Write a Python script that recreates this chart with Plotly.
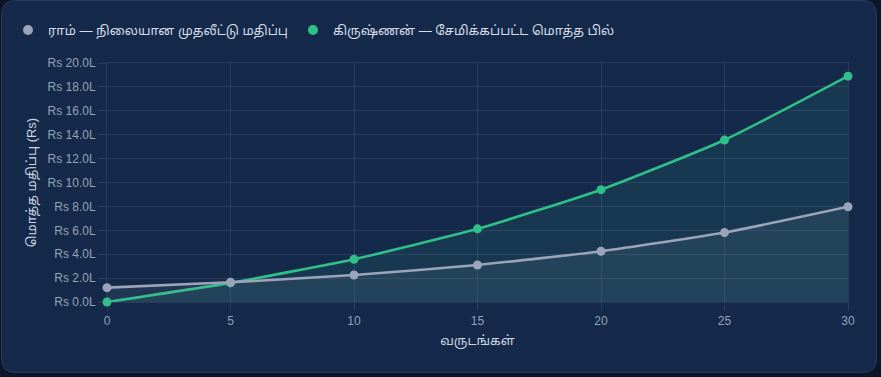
import plotly.graph_objects as go

# ---- data ----
years = [0, 5, 10, 15, 20, 25, 30]
ram_values = [1.2, 1.65, 2.26, 3.1, 4.25, 5.81, 7.97]          # lakhs
krishnan_values = [0, 1.6, 3.58, 6.12, 9.4, 13.56, 18.9]        # lakhs
ram_label = "ராம் — நிலையான முதலீட்டு மதிப்பு"
krishnan_label = "கிருஷ்ணன் — சேமிக்கப்பட்ட மொத்த பில்"
x_title = "வருடங்கள்"
y_title = "மொத்த மதிப்பு (Rs)"

W, H = 881, 377
ML, MR, MT, MB = 107, 33, 63, 75
PW, PH = W - ML - MR, H - MT - MB

GREEN = "#2fbf88"
GRAY = "#9ca4ba"
CARD = "#15294a"
OUTER = "#0c1628"
GRID = "rgba(148,163,184,0.16)"
FONT = "Liberation Sans, Arial, Noto Sans Tamil, Noto Sans, sans-serif"


def px(x):
    return (x - ML) / PW


def py(y):
    return (H - MB - y) / PH


def rounded_rect(x0, y0, x1, y1, r):
    rx, ry = r / PW, r / PH
    X0, X1 = px(x0), px(x1)
    Y0, Y1 = py(y0), py(y1)  # Y0 top (larger), Y1 bottom
    return (f"M {X0+rx},{Y0} L {X1-rx},{Y0} Q {X1},{Y0} {X1},{Y0-ry} "
            f"L {X1},{Y1+ry} Q {X1},{Y1} {X1-rx},{Y1} "
            f"L {X0+rx},{Y1} Q {X0},{Y1} {X0},{Y1+ry} "
            f"L {X0},{Y0-ry} Q {X0},{Y0} {X0+rx},{Y0} Z")


fig = go.Figure()

fig.add_trace(go.Scatter(
    x=years, y=krishnan_values, mode="lines+markers", name=krishnan_label,
    line=dict(color=GREEN, width=2.6, shape="spline", smoothing=0.5),
    marker=dict(size=9, color=GREEN),
    fill="tozeroy", fillcolor="rgba(46,196,138,0.10)",
    showlegend=False, cliponaxis=False,
))
fig.add_trace(go.Scatter(
    x=years, y=ram_values, mode="lines+markers", name=ram_label,
    line=dict(color=GRAY, width=2.6, shape="spline", smoothing=0.5),
    marker=dict(size=9, color=GRAY),
    fill="tozeroy", fillcolor="rgba(148,163,184,0.10)",
    showlegend=False, cliponaxis=False,
))
# legend entries (circle markers only)
for lbl, col in [(ram_label, GRAY), (krishnan_label, GREEN)]:
    fig.add_trace(go.Scatter(x=[None], y=[None], mode="markers", name=lbl,
                             marker=dict(size=10, color=col)))

fig.update_layout(
    width=W, height=H,
    margin=dict(l=ML, r=MR, t=MT, b=MB, autoexpand=False),
    paper_bgcolor=OUTER,
    plot_bgcolor="rgba(0,0,0,0)",
    font=dict(family=FONT, color="#cbd5e1", size=12),
    showlegend=True,
    legend=dict(orientation="h", x=px(8), xanchor="left", y=py(30), yanchor="middle",
                font=dict(size=13, color="#d5dce8"), bgcolor="rgba(0,0,0,0)",
                itemclick=False),
    shapes=[dict(type="path", xref="paper", yref="paper", layer="below",
                 path=rounded_rect(1.5, 0.5, 876.5, 372.5, 14),
                 fillcolor=CARD, line=dict(color="#2a3c5a", width=1))],
    xaxis=dict(range=[0, 30], dtick=5, tick0=0, showgrid=True, gridcolor=GRID,
               zeroline=False, showline=True, linecolor=GRID, mirror=True,
               ticks="outside", ticklen=8, tickcolor=GRID, automargin=False,
               tickfont=dict(size=12, color="#94a3b8"),
               title=dict(text=x_title, font=dict(size=13, color="#cbd5e1"), standoff=8)),
    yaxis=dict(range=[0, 20], dtick=2, tick0=0, showgrid=True, gridcolor=GRID,
               zeroline=False, showline=True, linecolor=GRID, mirror=True,
               ticks="outside", ticklen=8, tickcolor=GRID, automargin=False,
               tickprefix="Rs ", ticksuffix="L", tickformat=".1f",
               tickfont=dict(size=12, color="#94a3b8"),
               title=dict(text=y_title, font=dict(size=13, color="#cbd5e1"), standoff=8)),
)

fig.write_html("out.html")
